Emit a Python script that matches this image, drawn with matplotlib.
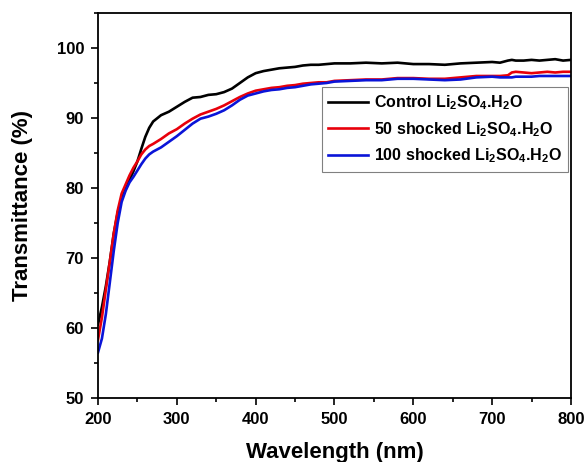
"""Transmittance spectra of control and shocked Li2SO4.H2O."""

import matplotlib

matplotlib.use("Agg")
import matplotlib.pyplot as plt
from matplotlib.ticker import MultipleLocator

plt.rcParams["font.family"] = "Liberation Sans"
plt.rcParams["font.weight"] = "bold"
plt.rcParams["mathtext.fontset"] = "custom"
plt.rcParams["mathtext.bf"] = "Liberation Sans:bold"
plt.rcParams["mathtext.rm"] = "Liberation Sans:bold"
plt.rcParams["mathtext.default"] = "bf"

wavelength = [200, 205, 210, 215, 220, 225, 230, 235, 240, 245, 250, 255, 260,
              265, 270, 280, 290, 300, 310, 320, 330, 340, 350, 360, 370, 380,
              390, 400, 410, 420, 430, 440, 450, 460, 470, 480, 490, 500, 520,
              540, 560, 580, 600, 620, 640, 660, 680, 700, 710, 720, 725, 730,
              740, 750, 760, 770, 780, 790, 800]

control = [60.5, 63.0, 66.0, 69.5, 73.5, 76.5, 78.5, 79.8, 81.2, 82.4, 83.8,
           85.6, 87.3, 88.6, 89.5, 90.4, 90.9, 91.6, 92.3, 92.9, 93.0, 93.3,
           93.4, 93.7, 94.2, 95.0, 95.8, 96.4, 96.7, 96.9, 97.1, 97.2, 97.3,
           97.5, 97.6, 97.6, 97.7, 97.8, 97.8, 97.9, 97.8, 97.9, 97.7, 97.7,
           97.6, 97.8, 97.9, 98.0, 97.9, 98.2, 98.3, 98.2, 98.2, 98.3, 98.2,
           98.3, 98.4, 98.2, 98.3]

shocked_50 = [58.3, 61.5, 65.5, 69.5, 73.5, 76.8, 79.2, 80.5, 81.8, 82.9, 83.8,
              84.8, 85.5, 86.0, 86.3, 87.0, 87.8, 88.4, 89.2, 89.9, 90.5, 90.9,
              91.3, 91.8, 92.4, 93.0, 93.5, 93.9, 94.1, 94.3, 94.4, 94.6, 94.7,
              94.9, 95.0, 95.1, 95.1, 95.3, 95.4, 95.5, 95.5, 95.7, 95.7, 95.6,
              95.6, 95.8, 96.0, 96.0, 96.0, 96.1, 96.5, 96.6, 96.5, 96.4, 96.5,
              96.6, 96.5, 96.6, 96.6]

shocked_100 = [56.5, 58.5, 62.0, 66.5, 71.0, 75.0, 78.0, 79.6, 80.8, 81.6, 82.5,
               83.4, 84.2, 84.8, 85.2, 85.8, 86.6, 87.4, 88.3, 89.2, 89.9, 90.2,
               90.6, 91.1, 91.8, 92.6, 93.2, 93.5, 93.8, 94.0, 94.1, 94.3, 94.4,
               94.6, 94.8, 94.9, 95.0, 95.2, 95.3, 95.4, 95.4, 95.6, 95.6, 95.5,
               95.4, 95.5, 95.8, 95.9, 95.8, 95.8, 95.8, 95.9, 95.9, 95.9, 96.0,
               96.0, 96.0, 96.0, 96.0]

labels = [r"Control Li$_2$SO$_4$.H$_2$O",
          r"50 shocked Li$_2$SO$_4$.H$_2$O",
          r"100 shocked Li$_2$SO$_4$.H$_2$O"]
colors = ["black", "#e8000b", "#0a14d8"]

fig = plt.figure(figsize=(5.85, 4.62), dpi=100)
ax = fig.add_axes([0.1675, 0.1385, 0.8085, 0.8334])

for series, label, color in zip([control, shocked_50, shocked_100], labels, colors):
    ax.plot(wavelength, series, color=color, lw=1.9, label=label)

ax.set_xlim(200, 800)
ax.set_ylim(50, 105)
ax.xaxis.set_major_locator(MultipleLocator(100))
ax.xaxis.set_minor_locator(MultipleLocator(50))
ax.yaxis.set_major_locator(MultipleLocator(10))
ax.yaxis.set_minor_locator(MultipleLocator(5))
ax.tick_params(which="both", direction="out", top=False, right=False,
               labelsize=12, width=1.2, pad=5)
ax.tick_params(which="major", length=5)
ax.tick_params(which="minor", length=3)
for spine in ax.spines.values():
    spine.set_linewidth(1.3)

ax.set_xlabel("Wavelength (nm)", fontsize=16, fontweight="bold", labelpad=11)
ax.set_ylabel("Transmittance (%)", fontsize=16, fontweight="bold", labelpad=17)

leg = ax.legend(loc="upper right", bbox_to_anchor=(0.971, 0.812),
                bbox_transform=fig.transFigure, borderaxespad=0,
                fontsize=11.5, fancybox=False, framealpha=1, edgecolor="gray",
                handlelength=2.5, handletextpad=0.35, labelspacing=0.5,
                borderpad=0.4)
leg.get_frame().set_linewidth(0.8)

fig.savefig("out.png", dpi=100)
